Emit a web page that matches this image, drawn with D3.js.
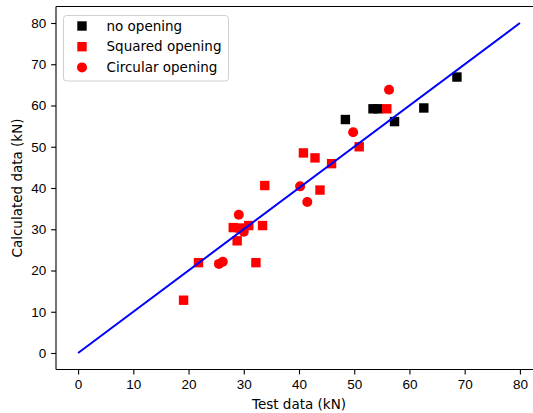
<!DOCTYPE html>
<meta charset="utf-8">
<title>Test data vs calculated data</title>
<script src="https://cdn.jsdelivr.net/npm/d3@7"></script>
<style>
body { margin:0; background:#fff; overflow:hidden; }
svg { display:block; font-family:"DejaVu Sans", sans-serif; }
.axis text { font-size:13.5px; fill:#000; }
.axis path, .axis line { stroke:#000; stroke-width:1.1px; }
</style>
<svg width="533" height="413"></svg>
<script>
// [test, calculated] in kN
var noOpening = [[48.4,56.6],[53.4,59.2],[54.3,59.2],[57.3,56.1],[62.6,59.4],[68.6,66.9]];
var squared = [[19.1,12.8],[21.8,21.9],[32.2,21.9],[28.1,30.4],[28.8,27.2],[29.3,30.3],
  [30.9,30.9],[33.4,30.9],[33.8,40.6],[40.8,48.5],[42.9,47.3],[43.8,39.5],[45.9,45.9],
  [50.9,50.0],[55.9,59.2]];
var circular = [[25.5,21.6],[26.2,22.1],[29.1,33.5],[30.0,29.4],[40.2,40.4],[41.5,36.6],
  [49.8,53.5],[56.3,63.8]];
var refLine = [[0,0],[80,80]];
var ticks = [0,10,20,30,40,50,60,70,80];
var legendItems = [
  {label:"no opening", color:"#000", shape:"square"},
  {label:"Squared opening", color:"#f00", shape:"square"},
  {label:"Circular opening", color:"#f00", shape:"circle"}
];

var svg = d3.select("svg"),
    mLeft = 56, mTop = 6.5, width = 486, height = 363;

var x = d3.scaleLinear().domain([-4,84]).range([mLeft, mLeft+width]),
    y = d3.scaleLinear().domain([-4,84]).range([mTop+height, mTop]);

var ms = 9.4; // marker size in px

function squares(data, color) {
  svg.append("g").selectAll("rect")
    .data(data)
    .enter().append("rect")
      .attr("x", function(d) { return x(d[0]) - ms/2; })
      .attr("y", function(d) { return y(d[1]) - ms/2; })
      .attr("width", ms)
      .attr("height", ms)
      .attr("fill", color);
}
squares(noOpening, "#000");
squares(squared, "#f00");

svg.append("g").selectAll("circle")
  .data(circular)
  .enter().append("circle")
    .attr("cx", function(d) { return x(d[0]); })
    .attr("cy", function(d) { return y(d[1]); })
    .attr("r", ms/2 + 0.3)
    .attr("fill", "#f00");

svg.append("path")
  .datum(refLine)
  .attr("fill", "none")
  .attr("stroke", "#00f")
  .attr("stroke-width", 2)
  .attr("d", d3.line().x(function(d) { return x(d[0]); }).y(function(d) { return y(d[1]); }));

// axes
svg.append("g")
    .attr("class", "axis")
    .attr("transform", "translate(0," + (mTop+height) + ")")
    .call(d3.axisBottom(x).tickValues(ticks).tickSize(4.9).tickPadding(4.8).tickSizeOuter(0))
    .call(function(g) { g.select(".domain").attr("d", "M" + mLeft + ",0H" + (mLeft+width)); });

svg.append("g")
    .attr("class", "axis")
    .attr("transform", "translate(" + mLeft + ",0)")
    .call(d3.axisLeft(y).tickValues(ticks).tickSize(4.9).tickPadding(4.8).tickSizeOuter(0))
    .call(function(g) { g.select(".domain").attr("d", "M0," + mTop + "V" + (mTop+height)); });

// top spine
svg.append("line")
    .attr("x1", mLeft).attr("x2", mLeft+width)
    .attr("y1", mTop).attr("y2", mTop)
    .attr("stroke", "#000").attr("stroke-width", 1.1);

svg.append("text")
    .attr("x", x(40)).attr("y", 409)
    .attr("text-anchor", "middle")
    .style("font-size", "13.5px")
    .text("Test data (kN)");

svg.append("text")
    .attr("transform", "translate(22," + y(40) + ") rotate(-90)")
    .attr("text-anchor", "middle")
    .style("font-size", "13.5px")
    .text("Calculated data (kN)");

// legend
var lg = svg.append("g");
lg.append("rect")
    .attr("x", 63.5).attr("y", 15.5)
    .attr("width", 165).attr("height", 65.5)
    .attr("rx", 3)
    .attr("fill", "#fff").attr("fill-opacity", 0.8)
    .attr("stroke", "#d0d0d0");

var row = lg.selectAll(".row")
  .data(legendItems)
  .enter().append("g")
    .attr("transform", function(d, i) { return "translate(0," + (26 + i*20.7) + ")"; });

row.filter(function(d) { return d.shape == "square"; })
  .append("rect")
    .attr("x", 82 - ms/2).attr("y", -ms/2)
    .attr("width", ms).attr("height", ms)
    .attr("fill", function(d) { return d.color; });

row.filter(function(d) { return d.shape == "circle"; })
  .append("circle")
    .attr("cx", 82).attr("r", ms/2 + 0.3)
    .attr("fill", function(d) { return d.color; });

row.append("text")
    .attr("x", 106.5).attr("dy", "0.35em")
    .style("font-size", "13.5px")
    .text(function(d) { return d.label; });
</script>
</html>
